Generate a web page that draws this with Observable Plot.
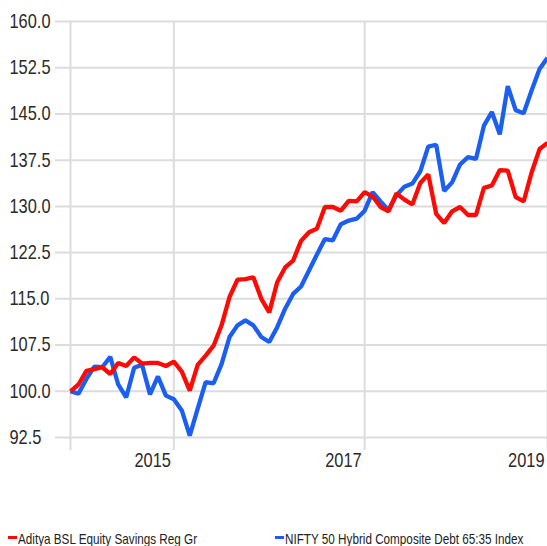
<!DOCTYPE html>
<html>
<head>
<meta charset="utf-8">
<script src="https://cdn.jsdelivr.net/npm/d3@7"></script>
<script src="https://cdn.jsdelivr.net/npm/@observablehq/plot@0.6"></script>
<style>
  html, body { margin: 0; padding: 0; background: #fff; }
  body { width: 547px; height: 546px; overflow: hidden; font-family: "Liberation Sans", Arial, sans-serif; }
  #legend { position: relative; height: 20px; margin-top: 56px; font-size: 15px; color: #222; line-height: 15px; white-space: nowrap; }
  .item { position: absolute; top: 0; height: 15px; }
  .sw { position: absolute; left: 0; top: 5px; width: 9px; height: 3px; }
  .tx { position: absolute; left: 10px; top: 0; transform: scaleX(0.78); transform-origin: 0 0; }
</style>
</head>
<body>
<div id="chart"></div>
<div id="legend"></div>
<script>
// Monthly growth of 100, month-end Nov 2014 (index 0) to Nov 2019 (index 60)
const seriesNames = ["Aditya BSL Equity Savings Reg Gr", "NIFTY 50 Hybrid Composite Debt 65:35 Index"];
const seriesColors = ["#fe0a05", "#1b5ef2"];

const fund = [
  100.0, 101.1, 103.3, 103.6, 103.9, 102.8, 104.6, 104.1, 105.5, 104.5,
  104.6, 104.6, 104.1, 104.8, 103.2, 100.1, 104.3, 105.8, 107.4, 110.7,
  115.3, 118.1, 118.2, 118.5, 115.0, 112.8, 117.7, 120.1, 121.2, 124.4,
  125.8, 126.4, 129.9, 129.9, 129.3, 130.9, 130.8, 132.3, 131.6, 129.9,
  129.2, 132.1, 131.1, 130.3, 133.8, 135.2, 128.8, 127.3, 129.2, 129.9,
  128.6, 128.6, 133.0, 133.4, 135.9, 135.8, 131.5, 130.8, 135.5, 139.3,
  140.3
];
const index = [
  100.0, 99.6, 102.0, 104.0, 103.9, 105.6, 101.1, 99.0, 103.8, 104.3,
  99.5, 102.4, 99.3, 98.7, 96.9, 92.8, 97.2, 101.5, 101.3, 104.4,
  108.8, 110.7, 111.5, 110.7, 108.8, 108.0, 110.4, 113.4, 115.8, 117.0,
  119.6, 122.2, 124.7, 124.5, 127.1, 127.7, 128.0, 129.3, 132.3, 130.8,
  129.4, 131.8, 133.2, 133.7, 135.7, 139.7, 140.0, 132.5, 133.9, 136.8,
  138.0, 137.7, 143.1, 145.3, 141.7, 149.5, 145.6, 145.1, 148.8, 152.3,
  154.1
];

const yTicks = [92.5, 100.0, 107.5, 115.0, 122.5, 130.0, 137.5, 145.0, 152.5, 160.0];
const xGrid = [0, 13, 37, 60];          // month indices of vertical grid lines
const xTickPos = [13, 37, 60];          // year-end positions
const xTickLabels = ["2015", "2017", "2019"];

const rows = [];
fund.forEach((v, i) => rows.push({i, v, s: seriesNames[0]}));
index.forEach((v, i) => rows.push({i, v, s: seriesNames[1]}));

const chart = Plot.plot({
  width: 547,
  height: 475,
  marginTop: 21,
  marginBottom: 38,
  marginLeft: 70,
  marginRight: 0,
  style: {fontFamily: '"Liberation Sans", Arial, sans-serif', fontSize: "20px", color: "#2a2a2a", background: "#fff"},
  x: {domain: [0, 60]},
  y: {domain: [92.5, 160]},
  color: {domain: seriesNames, range: seriesColors},
  marks: [
    Plot.ruleY(yTicks, {stroke: "#dcdcdc", strokeWidth: 2, insetLeft: -15, strokeOpacity: 1}),
    Plot.ruleX(xGrid, {stroke: "#dcdcdc", strokeWidth: 2, insetBottom: -13, strokeOpacity: 1}),
    Plot.axisY({ticks: yTicks, tickSize: 0, tickPadding: 61, textAnchor: "start", tickFormat: d => d.toFixed(1), label: null}),
    Plot.axisX({ticks: xTickPos, tickSize: 0, tickPadding: 15, tickFormat: d => xTickLabels[xTickPos.indexOf(d)], textAnchor: "end", dx: -3, label: null}),
    Plot.line(rows.filter(r => r.s === seriesNames[1]), {x: "i", y: "v", stroke: "s", strokeWidth: 4.3, strokeLinejoin: "miter", strokeLinecap: "butt"}),
    Plot.line(rows.filter(r => r.s === seriesNames[0]), {x: "i", y: "v", stroke: "s", strokeWidth: 4.3, strokeLinejoin: "miter", strokeLinecap: "butt"})
  ]
});
// condensed look: narrow the axis label glyphs around their anchor points
chart.querySelectorAll("text").forEach(t => {
  const tr = t.getAttribute("transform") || "";
  t.setAttribute("transform", (tr + " scale(0.82,1)").trim());
});
document.getElementById("chart").appendChild(chart);

const lg = document.getElementById("legend");
const lefts = [8, 275];
seriesNames.forEach((n, k) => {
  const d = document.createElement("div");
  d.className = "item";
  d.style.left = lefts[k] + "px";
  d.innerHTML = `<span class="sw" style="background:${seriesColors[k]}"></span><span class="tx">${n}</span>`;
  lg.appendChild(d);
});
</script>
</body>
</html>
